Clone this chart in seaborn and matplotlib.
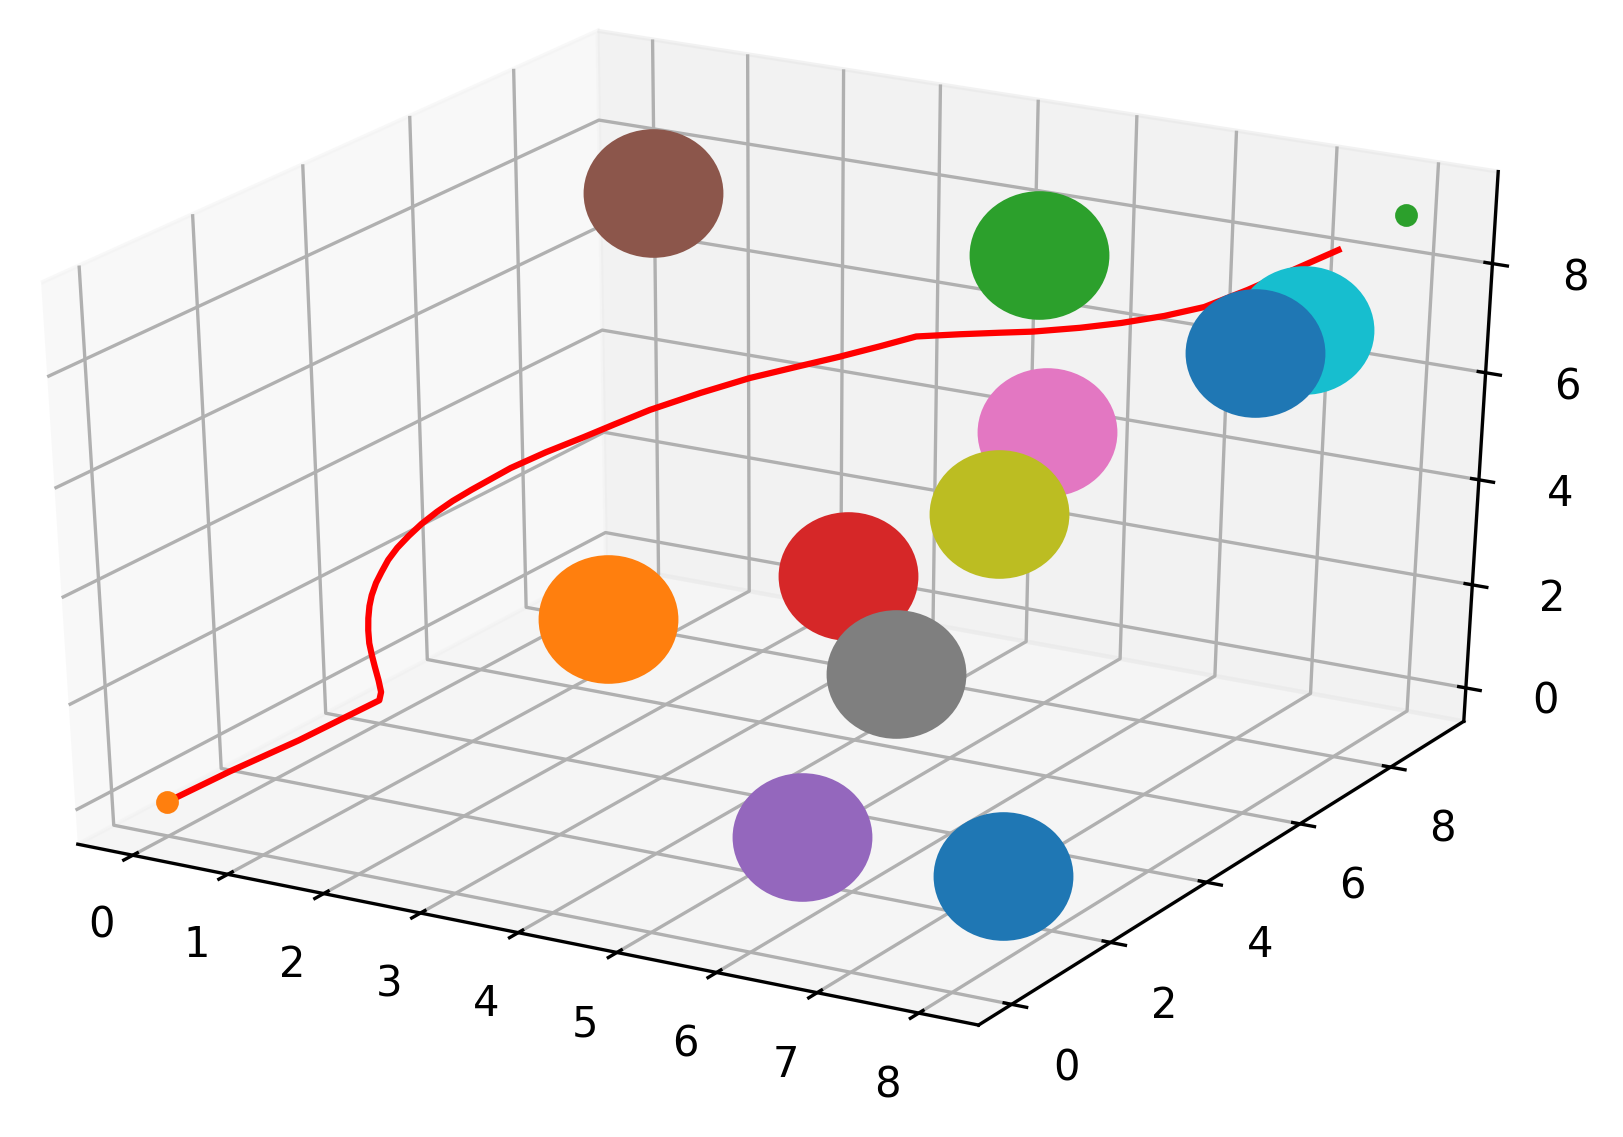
import matplotlib
matplotlib.use("Agg")
import matplotlib.pyplot as plt
from matplotlib.path import Path
from matplotlib.transforms import Affine2D
from matplotlib.ticker import MultipleLocator
import seaborn as sns

# ─── Data ─────────────────────────────────────────────────────────────────────
# obstacle centres (one scatter each, colours follow the tab10 cycle)
obs_x = [7.7, 2.3, 4.6, 4.3, 5.7, 1.5, 5.3, 5.3, 5.7, 7.7, 7.8]
obs_y = [1.6, 4.3, 8.5, 5.25, 1.6, 6.8, 7.3, 4.25, 5.5, 7.55, 6.3]
obs_z = [0.5, 2.0, 7.5, 3.0, 0.5, 8.5, 5.0, 2.0, 4.5, 7.5, 7.7]

start = [0, 0, 0]
goal = [8, 9, 9]

# smoothed path found by the planner
path_x = [0, 0.04, 0.12, 0.14, 0.16,
          0.16, 0.16, 0.16, 0.16, 0.16, 0.16, 0.16, 0.16, 0.16, 0.16, 0.16,
          0.18, 0.23, 0.30, 0.38, 0.48, 0.60, 0.74, 0.89, 1.04, 1.36, 1.71,
          2.00, 2.30, 2.76, 3.20, 3.65, 4.01, 4.33, 4.58, 4.96, 5.32, 5.63,
          6.05, 6.41, 6.75, 7.04, 7.28, 7.49, 7.71]
path_y = [0, 1.10, 2.26, 2.99, 3.73,
          3.77, 3.73, 3.67, 3.62, 3.58, 3.57, 3.58, 3.61, 3.66, 3.75, 3.86,
          3.96, 4.05, 4.15, 4.26, 4.38, 4.47, 4.58, 4.69, 4.80, 4.90, 4.99,
          5.06, 5.18, 5.30, 5.43, 5.56, 5.61, 5.81, 6.03, 6.15, 6.23, 6.26,
          6.36, 6.46, 6.63, 6.84, 7.23, 7.65, 8.20]
path_z = [0, 0, 0, 0, 0,
          0.14, 0.39, 0.68, 0.94, 1.19, 1.44, 1.67, 1.89, 2.07, 2.26, 2.41,
          2.60, 2.80, 3.00, 3.20, 3.40, 3.60, 3.80, 4.00, 4.20, 4.55, 4.90,
          5.20, 5.50, 5.90, 6.25, 6.55, 6.80, 7.00, 7.15, 7.25, 7.35, 7.45,
          7.60, 7.75, 7.90, 8.05, 8.25, 8.45, 8.65]

# ─── Plot ─────────────────────────────────────────────────────────────────────
plt.rcParams["axes3d.automargin"] = True     # old-style 1/48 pane padding
palette = sns.color_palette("tab10")

# the source image was stretched a little sideways -> slightly wide blobs
blob = Path.unit_circle().transformed(Affine2D().scale(1.09, 1.0))

DPI = 300
fig = plt.figure(figsize=(1623 / DPI, 1137 / DPI), dpi=DPI)
ax = fig.add_axes([-0.127, 0.015, 1.185, 1.043], projection="3d")
ax.set_box_aspect((1, 1, 1), zoom=0.909)
ax.apply_aspect = lambda position=None: None   # keep the stretched (pre-3.3) look

for i, (x, y, z) in enumerate(zip(obs_x, obs_y, obs_z)):
    ax.scatter(x, y, z, s=1060, marker=blob, color=palette[i % 10],
               depthshade=False)

ax.plot(path_x, path_y, path_z, color="r", lw=1.5)
ax.scatter(*start, color=palette[1], depthshade=False)
ax.scatter(*goal, color=palette[2], depthshade=False)

ax.xaxis.set_major_locator(MultipleLocator(1))
ax.yaxis.set_major_locator(MultipleLocator(2))
ax.zaxis.set_major_locator(MultipleLocator(2))

fig.savefig("out.png", dpi=DPI)
plt.close(fig)
